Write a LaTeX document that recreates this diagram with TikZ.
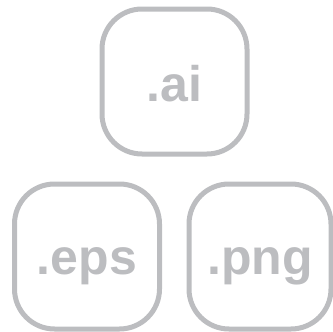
\documentclass[tikz,border=0pt]{standalone}
\usepackage{fontspec}
\setmainfont{Liberation Sans}
\definecolor{iconGray}{HTML}{BCBDC0}
\begin{document}
\begin{tikzpicture}[x=1pt,y=-1pt,
  filebox/.style={draw=iconGray, line width=5pt, rounded corners=40pt,
    minimum width=145pt, minimum height=145pt, inner sep=0pt, text depth=0pt,
    text=iconGray, font=\fontsize{50}{50}\selectfont\bfseries}]
\useasboundingbox (0,0) rectangle (333,332);
\node[filebox, text height=41pt] (ai) at (174.5,81.5) {.ai};
\node[filebox, text height=35pt] (eps) at (87,256.5) {.eps};
\node[filebox, text height=35pt, minimum width=142pt] (png) at (260,256.5) {.png};
\end{tikzpicture}
\end{document}
